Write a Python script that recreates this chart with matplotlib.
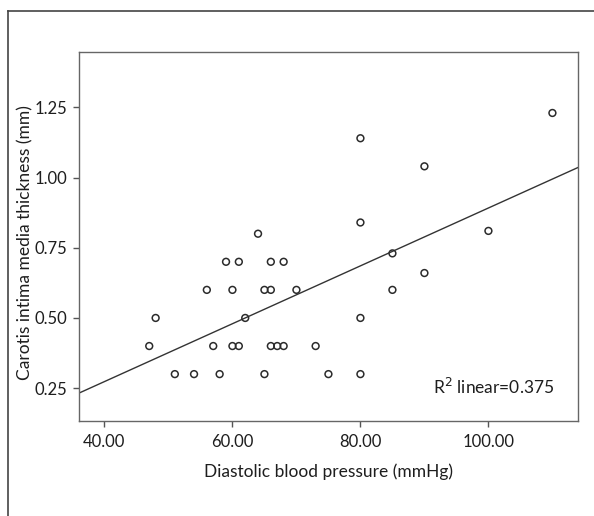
import numpy as np
import matplotlib
matplotlib.use("Agg")
import matplotlib.pyplot as plt
from matplotlib.lines import Line2D

plt.rcParams["font.family"] = ["Lato", "DejaVu Sans"]

# =====================================================
# DATA
# =====================================================

dbp = [47, 48, 51, 54, 58, 56, 57, 59, 61, 60, 60, 61, 62, 64, 66, 68, 65, 66,
       70, 66, 67, 68, 73, 65, 75, 80, 80, 80, 80, 85, 85, 90, 90, 100, 110]
cimt = [0.40, 0.50, 0.30, 0.30, 0.30, 0.60, 0.40, 0.70, 0.70, 0.60, 0.40, 0.40,
        0.50, 0.80, 0.70, 0.70, 0.60, 0.60, 0.60, 0.40, 0.40, 0.40, 0.40, 0.30,
        0.30, 0.30, 0.50, 0.84, 1.14, 0.73, 0.60, 1.04, 0.66, 0.81, 1.23]

x_ticks = [40, 60, 80, 100]
y_ticks = [0.25, 0.50, 0.75, 1.00, 1.25]
r2_text = "R$^2$ linear=0.375"

# =====================================================
# PLOT
# =====================================================

fig = plt.figure(figsize=(5.94, 5.16), dpi=100)
ax = fig.add_axes([0.1338, 0.1841, 0.8393, 0.7145])

ax.scatter(
    dbp,
    cimt,
    s=24,
    facecolors="none",
    edgecolors="#2b2b2b",
    linewidths=1.1,
    zorder=3
)

xlim = (36.1, 114.0)
slope, intercept = np.polyfit(dbp, cimt, 1)
xs = np.array(xlim)
ax.plot(xs, intercept + slope * xs, color="#333333", lw=1.0)

ax.set_xlim(*xlim)
ax.set_ylim(0.133, 1.446)

ax.set_xticks(x_ticks)
ax.set_xticklabels([f"{v:.2f}" for v in x_ticks])
ax.set_yticks(y_ticks)
ax.set_yticklabels([f"{v:.2f}" for v in y_ticks])

for s in ax.spines.values():
    s.set_color("#666666")
    s.set_linewidth(1.0)

ax.tick_params(direction="out", length=4, width=1, color="#555555",
               labelsize=12, labelcolor="#1e1e1e", pad=5)

ax.set_xlabel("Diastolic blood pressure (mmHg)", fontsize=12.5,
              color="#1e1e1e", labelpad=10)
ax.set_ylabel("Carotis intima media thickness (mm)", fontsize=12.5,
              color="#1e1e1e")
ax.yaxis.set_label_coords(-0.092, 0.485)

ax.text(0.953, 0.092, r2_text, transform=ax.transAxes, ha="right",
        va="center", fontsize=12.5, color="#1e1e1e")

# outer frame (left and top edge only)
fig.add_artist(Line2D([8 / 594, 8 / 594], [0, 1 - 11 / 516],
                      transform=fig.transFigure, color="#444444", lw=1.2))
fig.add_artist(Line2D([8 / 594, 1], [1 - 11 / 516, 1 - 11 / 516],
                      transform=fig.transFigure, color="#444444", lw=1.2))

fig.savefig("out.png", dpi=100)
